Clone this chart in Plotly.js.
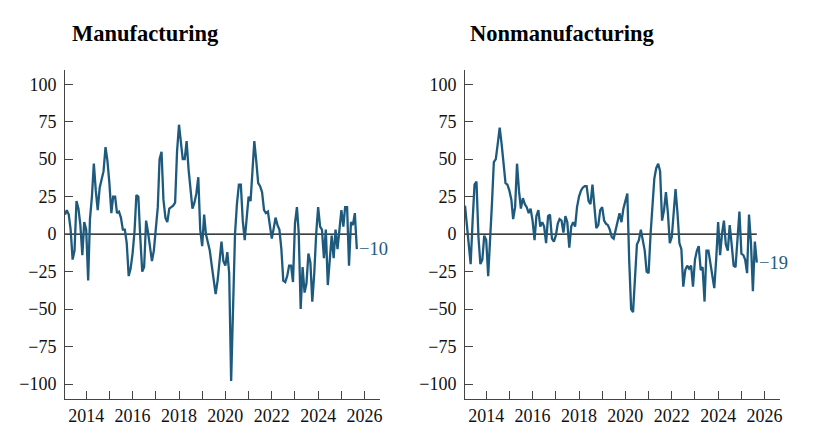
<!DOCTYPE html>
<html><head><meta charset="utf-8">
<script src="https://cdn.plot.ly/plotly-3.0.1.min.js"></script>
<style>html,body{margin:0;padding:0;background:#fff}#chart{width:813px;height:447px}</style>
</head><body><div id="chart"></div>
<script>
// first observation: February 2013, monthly
const startYear = 2013;
const startMonth = 2;

const manufacturing = [
  13, 16, 13, 3, -17, -11, 22, 17, 6, -14,
  8, 3, -31, 10, 25, 47, 29, 16, 31, 36,
  42, 58, 49, 34, 14, 25, 25, 14, 15, 11,
  3, 3, -6, -28, -23, -13, 2, 26, 25, -2,
  -25, -22, 9, 1, -8, -18, -11, 3, 18, 50,
  55, 23, 11, 8, 17, 18, 19, 21, 55, 73,
  58, 50, 50, 62, 43, 30, 17, 21, 27, 38,
  3, -8, 13, 0, -6, -11, -21, -32, -40, -31,
  -20, -5, -18, -21, -12, -26, -98, -46, 0, 20,
  33, 33, 9, -4, 9, 25, 22, 38, 62, 49,
  34, 32, 28, 16, 14, 15, 6, -3, 4, 11,
  6, 3, -10, -31, -32, -28, -21, -21, -32, 7,
  18, 1, -50, -22, -39, -33, -13, -19, -45, -26,
  0, 18, 5, 3, -16, 3, -34, -20, -1, -16,
  3, -10, 5, 16, 5, 18, 18, -21, 8, 6,
  14, -10
];

const nonmanufacturing = [
  19, 7, -8, -20, 9, 33, 35, -2, -20, -17,
  -1, -4, -28, -8, 20, 48, 50, 60, 71, 60,
  47, 34, 33, 29, 23, 10, 18, 47, 29, 17,
  24, 20, 18, 14, 17, 9, -4, 12, 16, 5,
  8, 5, -6, 12, 13, -3, -5, -1, 7, 10,
  9, 1, 12, 8, -9, 5, 8, 5, 18, 25,
  29, 31, 32, 32, 22, 20, 33, 18, 4, 6,
  16, 18, 9, 7, 6, 3, -2, -3, 3, 10,
  14, 8, 17, 22, 27, -17, -50, -52, -26, -7,
  -4, 3, -4, -11, -25, -26, 0, 20, 37, 44,
  47, 42, 9, 16, 28, 14, -6, -2, 14, 30,
  14, -6, -10, -35, -24, -21, -23, -21, -35, -17,
  -11, -8, -24, -22, -45, -11, -11, -20, -27, -36,
  -17, 8, -14, 0, 9, -7, -11, 6, -7, -21,
  -22, -6, 15, -13, -14, -17, -26, 13, -6, -38,
  -5, -19
];

const panelTitles = ['Manufacturing', 'Nonmanufacturing'];
const yTickValues = [-100, -75, -50, -25, 0, 25, 50, 75, 100];

function monthDates(n) {
  const out = [];
  for (let i = 0; i < n; i++) {
    const t = (startMonth - 1) + i;
    const y = startYear + Math.floor(t / 12);
    const m = (t % 12) + 1;
    out.push(y + '-' + String(m).padStart(2, '0') + '-01');
  }
  return out;
}

const lineColor = '#1e5a7d';
const fontFam = '"Liberation Serif", "Times New Roman", serif';
const axisColor = '#444';
const series = [manufacturing, nonmanufacturing];
const dates = monthDates(manufacturing.length);

const traces = series.map((vals, i) => ({
  type: 'scatter', mode: 'lines',
  x: dates, y: vals,
  xaxis: i === 0 ? 'x' : 'x2', yaxis: i === 0 ? 'y' : 'y2',
  line: {color: lineColor, width: 2.3},
  hoverinfo: 'x+y', showlegend: false
}));

function xAxis(domain, anchor) {
  return {
    domain: domain, anchor: anchor, type: 'date',
    range: ['2013-02-01', '2026-09-01'],
    tick0: '2014-01-01', dtick: 'M24', tickformat: '%Y',
    ticks: 'inside', ticklen: 8, tickwidth: 1, tickcolor: axisColor,
    minor: {dtick: 'M12', tick0: '2014-01-01', ticks: 'inside', ticklen: 8, tickwidth: 1, tickcolor: axisColor, showgrid: false},
    showline: true, linecolor: axisColor, linewidth: 1,
    showgrid: false, zeroline: false,
    tickfont: {family: fontFam, size: 18, color: '#111'}
  };
}
function yAxis(anchor) {
  return {
    domain: [0.1074, 0.8434], anchor: anchor,
    range: [-110, 109.5],
    tickmode: 'array', tickvals: yTickValues,
    ticks: 'inside', ticklen: 8, tickwidth: 1, tickcolor: axisColor,
    showline: true, linecolor: axisColor, linewidth: 1,
    showgrid: false, zeroline: false,
    ticklabelstandoff: 4,
    tickfont: {family: fontFam, size: 18, color: '#111'}
  };
}

const fmt = v => (v < 0 ? '\u2212' : '') + Math.abs(v);
const last = dates.length - 1;

const shapes = series.map((vals, i) => ({
  type: 'line', xref: i === 0 ? 'x' : 'x2', yref: i === 0 ? 'y' : 'y2',
  x0: dates[0], x1: dates[last], y0: 0, y1: 0,
  line: {color: '#000', width: 1.3}, layer: 'below'
}));

const annotations = [
  {text: '<b>' + panelTitles[0] + '</b>', xref: 'paper', yref: 'paper', x: 70/813, y: 1 - 33/447, xanchor: 'left', yanchor: 'middle', showarrow: false, font: {family: fontFam, size: 22.5, color: '#000'}},
  {text: '<b>' + panelTitles[1] + '</b>', xref: 'paper', yref: 'paper', x: 468/813, y: 1 - 33/447, xanchor: 'left', yanchor: 'middle', showarrow: false, font: {family: fontFam, size: 22.5, color: '#000'}}
].concat(series.map((vals, i) => ({
  text: fmt(vals[last]), xref: i === 0 ? 'x' : 'x2', yref: i === 0 ? 'y' : 'y2',
  x: dates[last], y: vals[last], xanchor: 'left', yanchor: 'middle', showarrow: false,
  font: {family: fontFam, size: 18.5, color: lineColor}
})));

const layout = {
  width: 813, height: 447,
  margin: {l: 0, r: 0, t: 0, b: 0},
  paper_bgcolor: '#fff', plot_bgcolor: '#fff',
  showlegend: false,
  xaxis: xAxis([65/813, 380/813], 'y'),
  yaxis: yAxis('x'),
  xaxis2: xAxis([465/813, 780/813], 'y2'),
  yaxis2: yAxis('x2'),
  shapes: shapes,
  annotations: annotations
};

Plotly.newPlot('chart', traces, layout, {displayModeBar: false, staticPlot: true});
</script>
</body></html>
